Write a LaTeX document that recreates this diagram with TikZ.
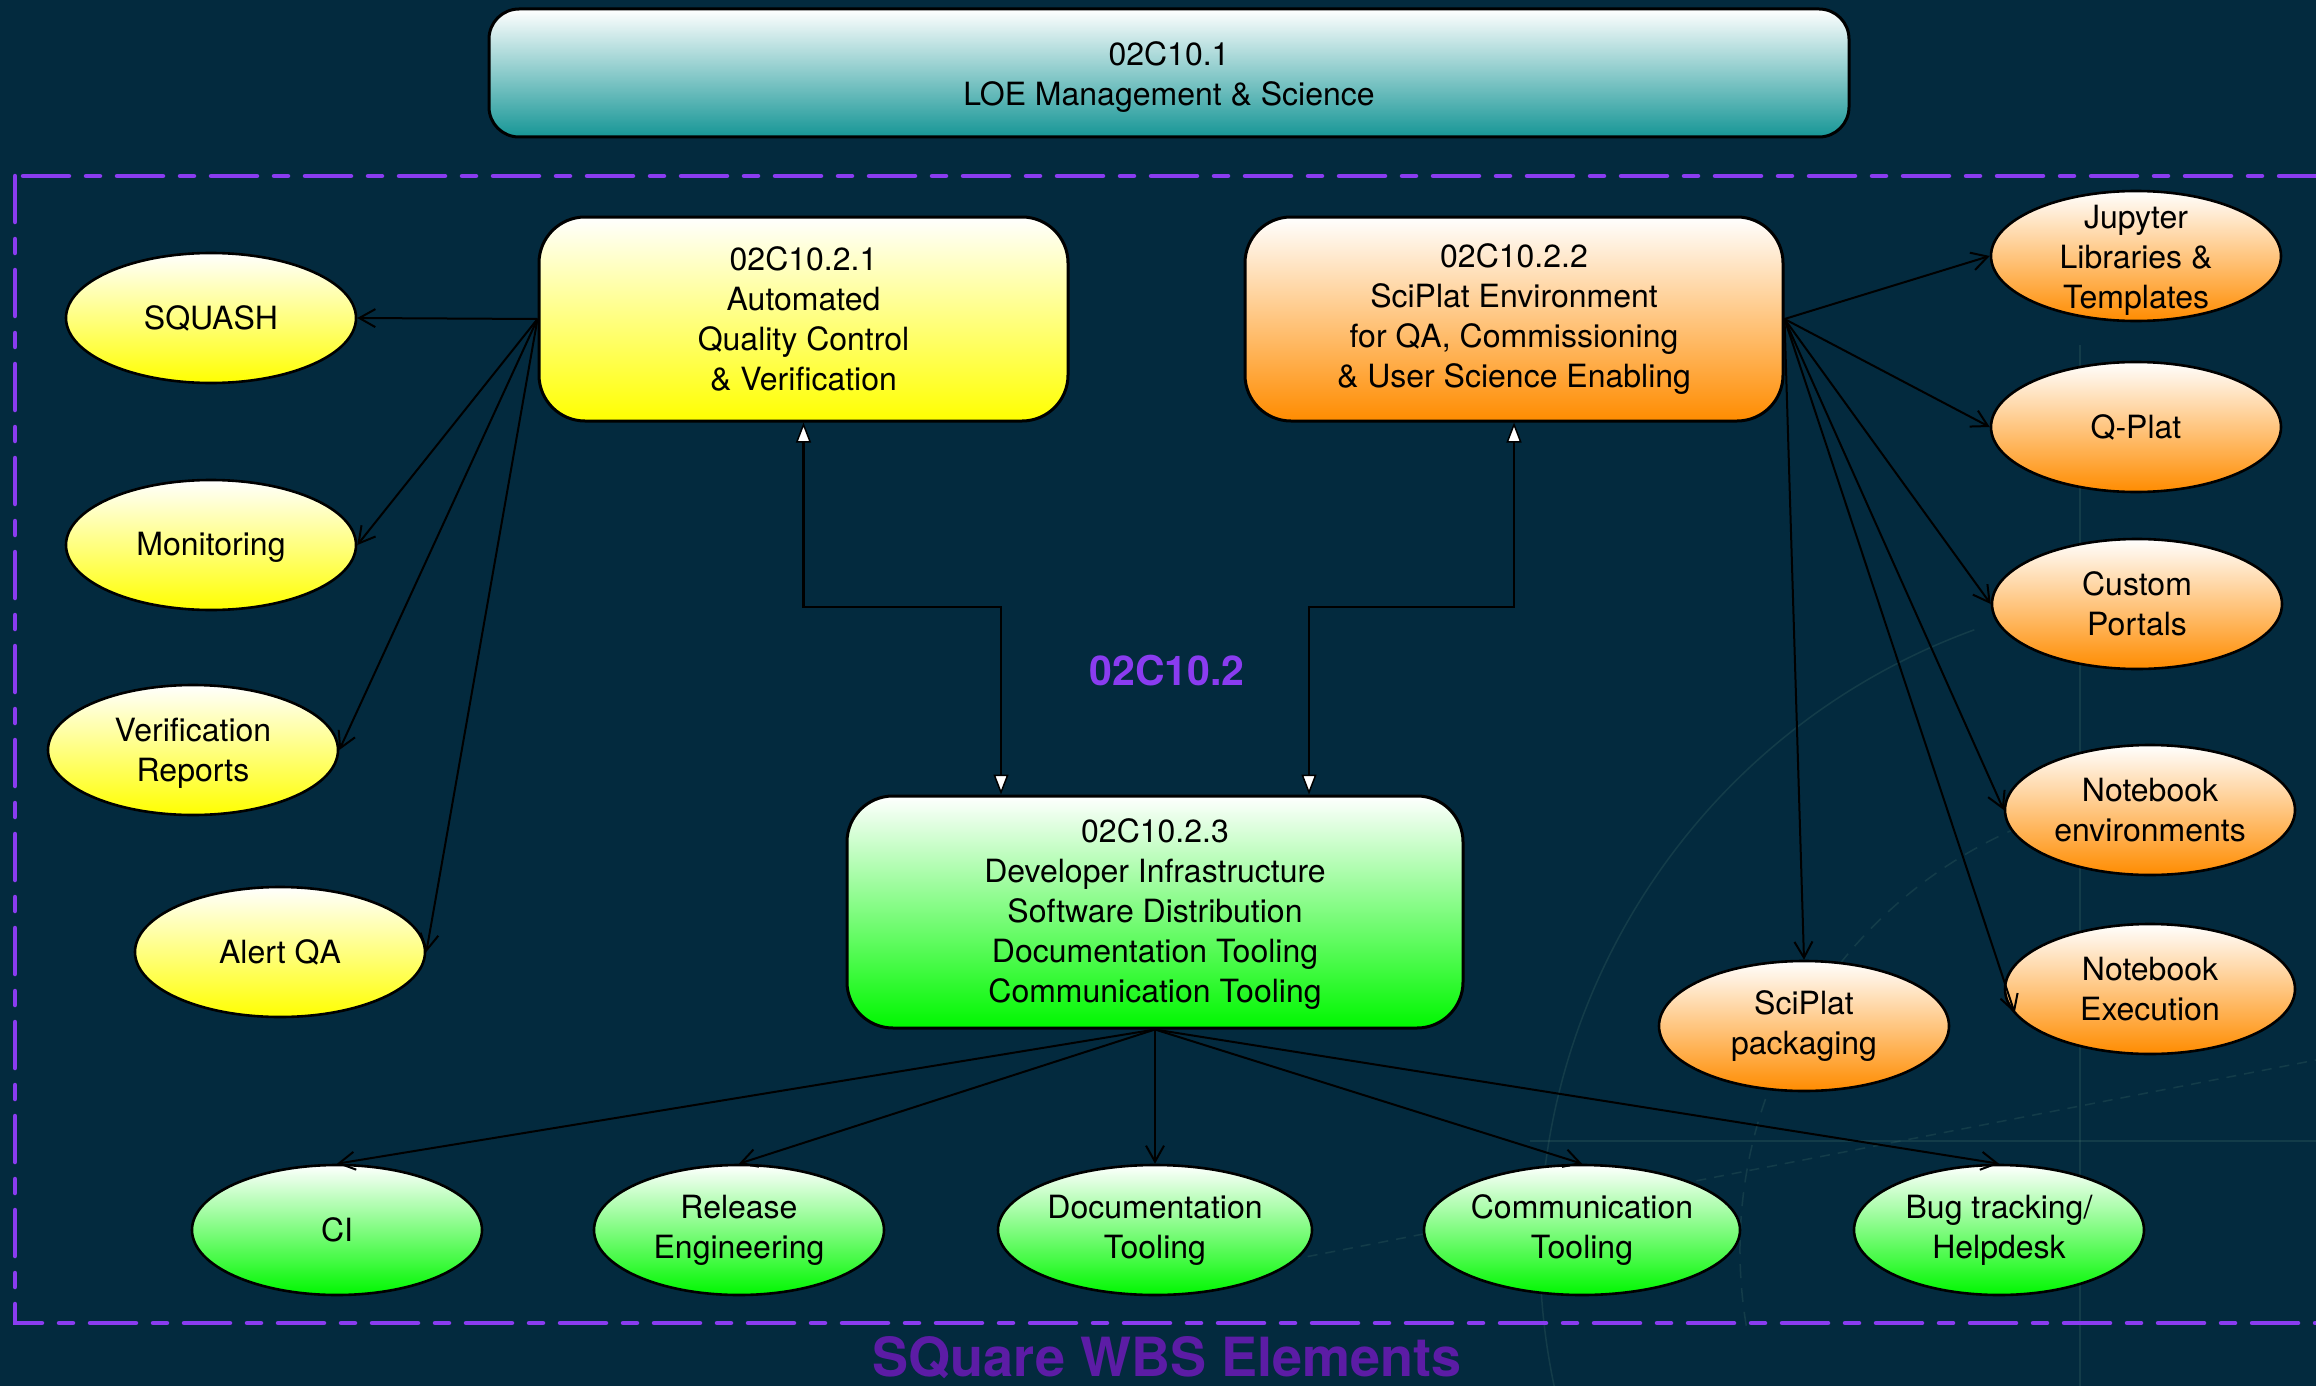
\documentclass[tikz,border=0pt]{standalone}
\usepackage{fontspec}
\setmainfont{TeX Gyre Heros}
\usetikzlibrary{arrows.meta,shapes.geometric}
\definecolor{bg}{RGB}{3,42,62}
\definecolor{wbspurple}{RGB}{138,60,240}
\definecolor{wbsdark}{RGB}{92,28,165}
\definecolor{tealb}{RGB}{22,150,150}
\definecolor{orangeb}{RGB}{255,140,0}
\definecolor{greenb}{RGB}{0,248,0}
\definecolor{faintline}{RGB}{80,125,115}
\newcommand\lowr[1]{\rule{0pt}{#1}}
\begin{document}
\begin{tikzpicture}[x=1pt,y=-1pt,
  txt/.style={font=\fontsize{32}{40}\selectfont, align=center, text=black},
  box/.style={txt, draw=black, line width=3pt, rectangle, rounded corners=46pt, inner sep=0pt},
  oval/.style={txt, draw=black, line width=2.6pt, ellipse, inner xsep=-25pt, inner ysep=-25pt, minimum width=290pt, minimum height=130pt},
  ylw/.style={top color=white, bottom color=yellow},
  org/.style={top color=white, bottom color=orangeb},
  grn/.style={top color=white, bottom color=greenb},
  link/.style={draw=black, line width=2pt, -{Straight Barb[length=16pt,width=18pt]}},
  tri/.style={draw=black, line width=2.6pt, {Triangle[length=20pt,width=15pt,fill=white,line width=1.5pt]}-{Triangle[length=20pt,width=15pt,fill=white,line width=1.5pt]}},
]
\useasboundingbox (0,0) rectangle (2316,1386);
\fill[bg] (0,0) rectangle (2316,1386);

% faint background drawing
\begin{scope}[draw=faintline, line width=1.5pt, opacity=0.22]
  \draw (2200,1250) ++(250:660) arc[start angle=250,end angle=165,radius=660];
  \draw[dash pattern=on 14pt off 10pt] (2200,1250) ++(247:460) arc[start angle=247,end angle=170,radius=460];
  \draw (2080,345) -- (2080,1386);
  \draw (1530,1141) -- (2316,1141);
  \draw[dash pattern=on 10pt off 8pt] (1290,1260) -- (2316,1060);
\end{scope}

% dashed WBS frame
\draw[wbspurple, line width=4.5pt, line cap=round, dash pattern=on 46pt off 17pt on 14pt off 17pt] (15,176) rectangle (2420,1323);

% top box
\node[box, top color=white, bottom color=tealb, rounded corners=30pt, minimum width=1360pt, minimum height=128pt] (loe) at (1169,73) {\lowr{31.5pt}02C10.1\\LOE Management \& Science};

% main boxes
\node[box, ylw, minimum width=529pt, minimum height=204pt] (qc) at (803.5,319) {02C10.2.1\\Automated\\Quality Control\\\& Verification};
\node[box, org, minimum width=538pt, minimum height=204pt] (sp) at (1514,319) {02C10.2.2\\SciPlat Environment\\for QA, Commissioning\\\& User Science Enabling};
\node[box, grn, minimum width=616pt, minimum height=232pt] (dev) at (1155,912) {\lowr{27pt}02C10.2.3\\Developer Infrastructure\\Software Distribution\\Documentation Tooling\\Communication Tooling};

% yellow ellipses
\node[oval, ylw] (squash) at (211,318) {SQUASH};
\node[oval, ylw] (mon) at (211,545) {\lowr{27pt}Monitoring};
\node[oval, ylw] (vr) at (193,750) {\lowr{29pt}Verification\\Reports};
\node[oval, ylw] (aqa) at (280,952) {Alert QA};

% orange ellipses
\node[oval, org] (jup) at (2136,256) {\lowr{31pt}Jupyter\\Libraries \&\\Templates};
\node[oval, org] (qp) at (2136,427) {Q-Plat};
\node[oval, org] (cp) at (2137,604) {Custom\\Portals};
\node[oval, org] (nbe) at (2150,810) {Notebook\\environments};
\node[oval, org] (nbx) at (2150,989) {Notebook\\Execution};
\node[oval, org] (spk) at (1804,1026) {SciPlat\\packaging};

% green ellipses
\node[oval, grn] (ci) at (337,1230) {CI};
\node[oval, grn] (rel) at (739,1230) {Release\\Engineering};
\node[oval, grn, minimum width=314pt] (doc) at (1155,1230) {Documentation\\Tooling};
\node[oval, grn, minimum width=316pt] (com) at (1582,1230) {Communication\\Tooling};
\node[oval, grn] (bug) at (1999,1230) {Bug tracking/\\Helpdesk};

% labels
\node[font=\fontsize{41}{48}\selectfont\bfseries, text=wbspurple] (lbl) at (1167,671) {02C10.2};
\node[font=\fontsize{54}{60}\selectfont\bfseries, text=wbsdark, anchor=base] (title) at (1167,1376) {SQuare WBS Elements};

% connectors
\draw[link] (qc.west) -- (squash.east);
\draw[link] (qc.west) -- (mon.east);
\draw[link] (qc.west) -- (vr.east);
\draw[link] (qc.west) -- (aqa.east);

\draw[link] (sp.east) -- (jup.west);
\draw[link] (sp.east) -- (qp.west);
\draw[link] (sp.east) -- (cp.west);
\draw[link] (sp.east) -- (nbe.west);
\draw[link] (sp.east) -- ([shift={(11pt,-24pt)}]nbx.west);
\draw[link] (sp.east) -- (spk.north);

\draw[link] (dev.south) -- (ci.north);
\draw[link] (dev.south) -- (rel.north);
\draw[link] (dev.south) -- (doc.north);
\draw[link] (dev.south) -- (com.north);
\draw[link] (dev.south) -- (bug.north);

\draw[tri] (qc.south) -- (qc.south |- 0,607) -| ([xshift=-154pt]dev.north);
\draw[tri] (sp.south) -- (sp.south |- 0,607) -| ([xshift=154pt]dev.north);
\end{tikzpicture}
\end{document}
